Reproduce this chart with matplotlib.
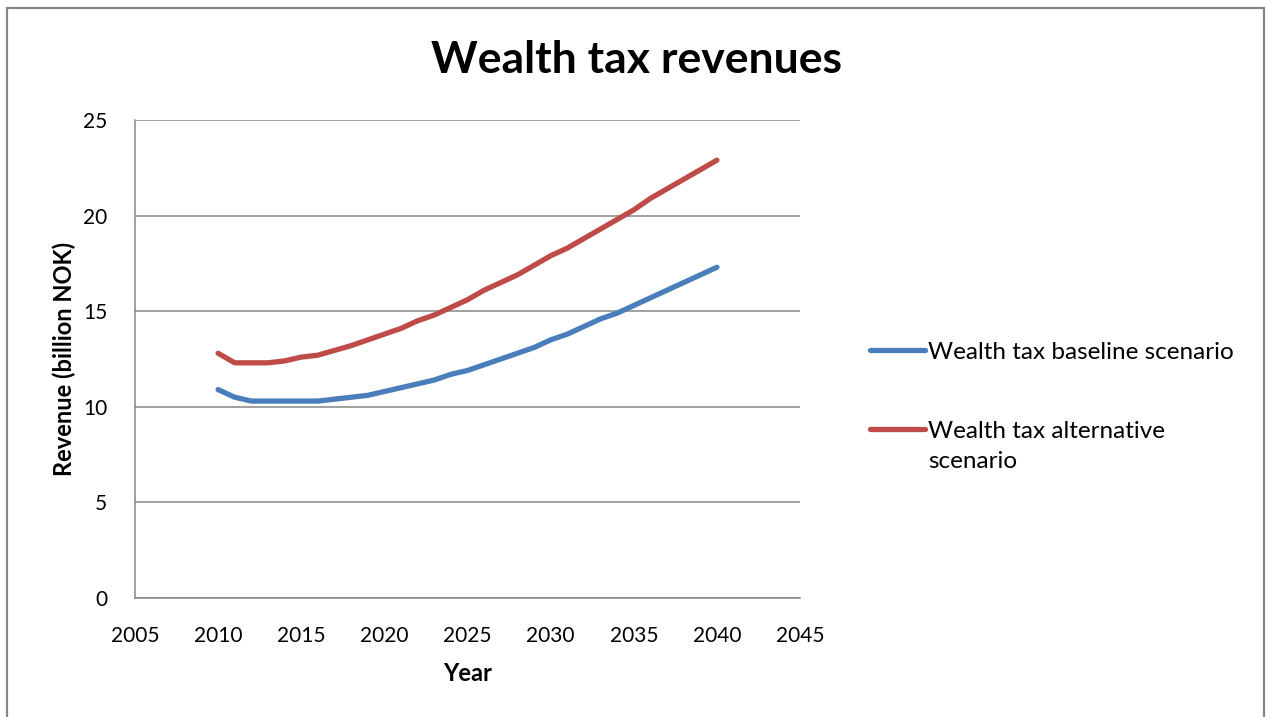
import matplotlib.pyplot as plt
from matplotlib.patches import Rectangle

plt.rcParams['font.family'] = ['Lato', 'DejaVu Sans']

years = list(range(2010, 2041))
baseline = [10.9, 10.5, 10.3, 10.3, 10.3, 10.3, 10.3, 10.4, 10.5, 10.6,
            10.8, 11.0, 11.2, 11.4, 11.7, 11.9, 12.2, 12.5, 12.8, 13.1,
            13.5, 13.8, 14.2, 14.6, 14.9, 15.3, 15.7, 16.1, 16.5, 16.9, 17.3]
alternative = [12.8, 12.3, 12.3, 12.3, 12.4, 12.6, 12.7, 12.95, 13.2, 13.5,
               13.8, 14.1, 14.5, 14.8, 15.2, 15.6, 16.1, 16.5, 16.9, 17.4,
               17.9, 18.3, 18.8, 19.3, 19.8, 20.3, 20.9, 21.4, 21.9, 22.4, 22.9]

grey = '#868686'

fig = plt.figure(figsize=(12.66, 7.17), dpi=100)
ax = fig.add_axes([0.1066, 0.166, 0.5254, 0.6666])

# chart area border (bottom edge runs off the page)
fig.patches.append(Rectangle((7 / 1266, -0.1), 1257 / 1266, 1.1 - 8 / 717,
                             transform=fig.transFigure, fill=False,
                             edgecolor=grey, linewidth=1.6))

ax.plot(years, baseline, color='#4A7EBB', linewidth=3.8,
        solid_capstyle='round', label='Wealth tax baseline scenario')
ax.plot(years, alternative, color='#BE4B48', linewidth=3.8,
        solid_capstyle='round', label='Wealth tax alternative\nscenario')

ax.set_xlim(2005, 2045)
ax.set_ylim(0, 25)
ax.set_xticks(range(2005, 2046, 5))
ax.set_yticks(range(0, 26, 5))
ax.yaxis.grid(True, color=grey, linewidth=1.1)
ax.set_axisbelow(True)
ax.tick_params(length=0, labelsize=15)
ax.tick_params(axis='x', pad=20)
ax.tick_params(axis='y', pad=20)
for side in ['top', 'right']:
    ax.spines[side].set_visible(False)
for side in ['left', 'bottom']:
    ax.spines[side].set_color(grey)
    ax.spines[side].set_linewidth(1.1)

ax.set_xlabel('Year', fontsize=17, fontweight='bold', labelpad=12)
ax.set_ylabel('Revenue (billion NOK)', fontsize=17, fontweight='bold', labelpad=5)
fig.suptitle('Wealth tax revenues', fontsize=32, fontweight='bold',
             x=0.503, y=0.916, va='center')

leg = fig.legend(loc='upper left', bbox_to_anchor=(0.670, 0.554),
                 frameon=False, fontsize=17.5, handlelength=2.26,
                 handletextpad=0.12, labelspacing=2.4)
for text in leg.get_texts():
    text.set_linespacing(1.55)
for column in leg._legend_handle_box.get_children():
    for item in column.get_children():
        item.align = 'top'

fig.savefig('out.png', dpi=100, facecolor='white')
